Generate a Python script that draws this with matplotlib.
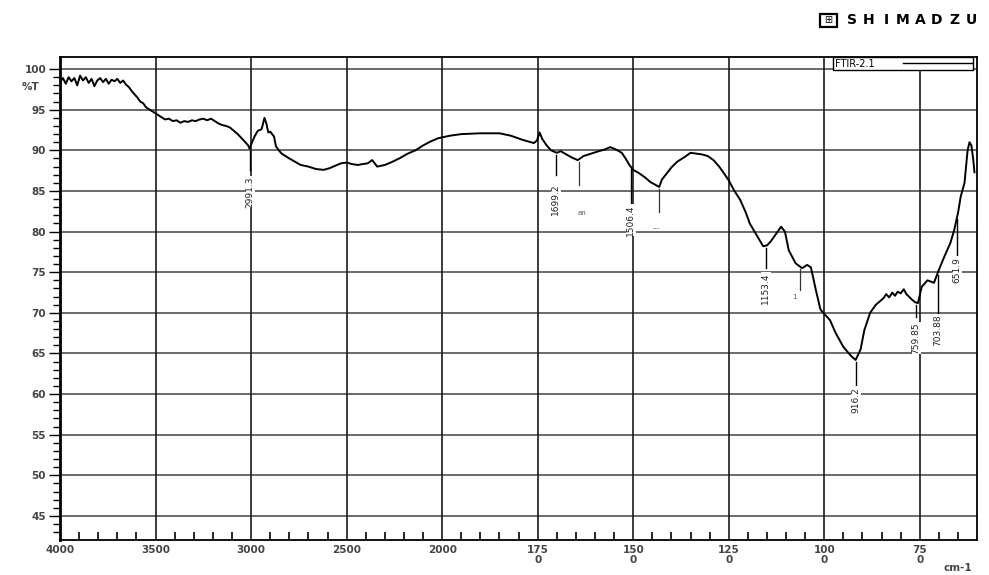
import matplotlib
matplotlib.use("Agg")
import numpy as np
import matplotlib.pyplot as plt
from matplotlib.ticker import FixedLocator, NullFormatter
from matplotlib.patches import Rectangle

# ------------------ DATA ------------------
wavenumber = [
    4000, 3985, 3970, 3955, 3940, 3925, 3910, 3895, 3880, 3865, 3850, 3835,
    3820, 3805, 3790, 3775, 3760, 3745, 3730, 3715, 3700, 3685, 3670, 3655,
    3640, 3625, 3610, 3595, 3580, 3565, 3550, 3530, 3510, 3490, 3470, 3450,
    3430, 3410, 3390, 3370, 3350, 3330, 3310, 3290, 3270, 3250, 3230, 3210,
    3190, 3170, 3150, 3130, 3110, 3090, 3070, 3050, 3030, 3015, 3008, 2995,
    2980, 2965, 2945, 2930, 2920, 2910, 2900, 2890, 2880, 2870, 2855, 2840,
    2820, 2800, 2770, 2740, 2700, 2660, 2620, 2590, 2560, 2530, 2500, 2470,
    2440, 2420, 2390, 2366, 2340, 2300, 2260, 2225, 2180, 2140, 2100, 2060,
    2020, 1980, 1950, 1900, 1850, 1820, 1790, 1760, 1752, 1745, 1738, 1728,
    1715, 1700, 1690, 1675, 1660, 1645, 1630, 1610, 1590, 1575, 1560, 1545,
    1530, 1520, 1510, 1500, 1485, 1470, 1455, 1440, 1432, 1425, 1415, 1400,
    1385, 1365, 1350, 1335, 1320, 1305, 1290, 1275, 1260, 1250, 1235, 1220,
    1205, 1195, 1180, 1170, 1160, 1150, 1140, 1125, 1113, 1103, 1093, 1075,
    1058, 1045, 1035, 1022, 1010, 985, 970, 950, 930, 918, 905, 895,
    880, 865, 845, 838, 830, 822, 815, 808, 800, 792, 785, 770,
    762, 755, 745, 730, 713, 700, 686, 670, 660, 650, 643, 633,
    625, 620, 615, 610, 607,
]
transmittance = [
    98.4, 98.9, 98.2, 99.0, 98.5, 98.9, 98.0, 99.2, 98.6, 99.0, 98.3, 98.8,
    97.9, 98.6, 98.9, 98.4, 98.8, 98.2, 98.7, 98.5, 98.8, 98.3, 98.6, 98.1,
    97.8, 97.3, 96.9, 96.5, 96.0, 95.8, 95.3, 95.0, 94.7, 94.4, 94.1, 93.8,
    93.9, 93.6, 93.7, 93.4, 93.6, 93.5, 93.7, 93.6, 93.8, 93.9, 93.7, 93.9,
    93.6, 93.3, 93.1, 93.0, 92.8, 92.4, 92.0, 91.5, 91.0, 90.6, 90.2, 91.0,
    91.8, 92.4, 92.6, 94.0, 93.3, 92.2, 92.3, 92.0, 91.7, 90.5, 90.0, 89.6,
    89.3, 89.0, 88.6, 88.2, 88.0, 87.7, 87.6, 87.8, 88.1, 88.4, 88.5, 88.3,
    88.2, 88.3, 88.4, 88.8, 88.0, 88.2, 88.6, 89.0, 89.6, 90.0, 90.6, 91.1,
    91.5, 91.8, 92.0, 92.1, 92.1, 91.8, 91.3, 90.9, 91.2, 92.2, 91.4, 90.7,
    90.0, 89.7, 89.9, 89.5, 89.1, 88.8, 89.3, 89.6, 89.9, 90.1, 90.4, 90.1,
    89.7, 89.0, 88.2, 87.6, 87.2, 86.7, 86.1, 85.7, 85.5, 86.4, 87.0, 87.9,
    88.6, 89.2, 89.7, 89.6, 89.5, 89.3, 88.8, 88.0, 87.0, 86.3, 85.0, 83.9,
    82.3, 81.0, 79.8, 79.0, 78.2, 78.3, 78.8, 79.8, 80.6, 80.0, 77.7, 76.1,
    75.5, 75.9, 75.6, 72.8, 70.4, 69.1, 67.5, 65.8, 64.7, 64.2, 65.5, 67.9,
    70.0, 71.0, 71.8, 72.3, 71.9, 72.5, 72.1, 72.6, 72.4, 72.9, 72.3, 71.6,
    71.3, 71.2, 73.2, 74.0, 73.7, 75.3, 76.9, 78.6, 80.2, 82.3, 84.3, 86.0,
    90.0, 91.0, 90.6, 88.8, 87.3,
]

peak_wn = [3008, 1703, 1506.4, 1153.4, 918, 760, 703, 651.9]
peak_labels = ["2991.3", "1699.2", "1506.4", "1153.4", "916.2", "759.85", "703.88", "651.9"]
# pointer end (%T) and label centre (%T) for each peak
peak_line_end = [87.6, 87.0, 83.5, 75.5, 61.1, 69.5, 69.3, 77.0]
peak_text_y = [84.9, 84.0, 81.4, 73.0, 59.3, 66.9, 67.9, 75.3]

minor_wn = [1642, 1432, 1063]
minor_line_end = [85.7, 82.4, 72.8]

x_major = [4000, 3500, 3000, 2500, 2000, 1750, 1500, 1250, 1000, 750]
x_labels = ["4000", "3500", "3000", "2500", "2000", "175\n0", "150\n0", "125\n0", "100\n0", "75\n0"]
y_major = [45, 50, 55, 60, 65, 70, 75, 80, 85, 90, 95, 100]
legend_text = "FTIR-2.1"


# ------------------ SCALE (4000-2000 compressed 2x) ------------------
def fwd(x):
    x = np.asarray(x, dtype=float)
    return np.where(x > 2000, 2000 + (x - 2000) / 2.0, x)


def inv(u):
    u = np.asarray(u, dtype=float)
    return np.where(u > 2000, 2000 + (u - 2000) * 2.0, u)


# ------------------ PLOT ------------------
fig = plt.figure(figsize=(9.89, 5.75), dpi=100)
ax = fig.add_axes([0.0607, 0.061, 0.9273, 0.840])
ax.set_xscale("function", functions=(fwd, inv))
ax.set_xlim(4000, 600)
ax.set_ylim(42.05, 101.5)

for y in y_major:
    ax.axhline(y, color="#6a6a6a", lw=1.4, zorder=1)
for x in x_major[1:]:
    ax.axvline(x, color="#1a1a1a", lw=1.2, zorder=1)

ax.plot(wavenumber, transmittance, color="black", lw=1.4, zorder=3)

# peak pointers
t_at = lambda w: np.interp(w, wavenumber[::-1], transmittance[::-1])
for w, lab, le, ty in zip(peak_wn, peak_labels, peak_line_end, peak_text_y):
    ax.plot([w, w], [t_at(w) - 0.3, le], color="black", lw=1.0, zorder=3)
    ax.text(w, ty, lab, rotation=90, ha="center", va="center", fontsize=6.5,
            color="#222222", bbox=dict(facecolor="white", edgecolor="none", pad=0.3),
            zorder=4)
for w, le in zip(minor_wn, minor_line_end):
    ax.plot([w, w], [t_at(w) - 0.3, le], color="#333333", lw=0.9, zorder=3)

ax.text(1635, 82.3, "an", fontsize=5, color="#555555", ha="center", va="center")
ax.text(1440, 80.4, "---", fontsize=5, color="#555555", ha="center", va="center")
ax.text(1078, 72.0, "1", fontsize=5, color="#555555", ha="center", va="center")

# ticks
ax.xaxis.set_major_locator(FixedLocator(x_major))
ax.set_xticklabels(x_labels)
x_minor = [w for w in range(3900, 2000, -100) if w % 500] + \
          [w for w in range(1950, 600, -50) if w % 250]
ax.xaxis.set_minor_locator(FixedLocator(x_minor))
ax.xaxis.set_minor_formatter(NullFormatter())
ax.tick_params(axis="x", which="both", direction="in", length=6, width=1.2,
               labelsize=7.5, labelcolor="#444444", pad=4)
ax.tick_params(axis="x", which="major", length=0)
for t in ax.get_xticklabels():
    t.set_fontweight("bold")
    t.set_linespacing(1.0)

ax.yaxis.set_major_locator(FixedLocator(y_major))
ax.set_yticklabels([str(v) for v in y_major])
ax.yaxis.set_minor_locator(FixedLocator([v for v in range(43, 101) if v % 5]))
ax.yaxis.set_minor_formatter(NullFormatter())
ax.tick_params(axis="y", which="major", direction="out", length=8, width=1.0,
               labelsize=7.5, labelcolor="#444444", pad=2)
ax.tick_params(axis="y", which="minor", direction="out", length=5, width=1.0)
for t in ax.get_yticklabels():
    t.set_fontweight("bold")

for s in ax.spines.values():
    s.set_color("black")
    s.set_linewidth(1.3)
ax.spines["left"].set_linewidth(2.0)

# %T and unit
fig.text(0.031, 1 - 87 / 575, "%T", fontsize=7.5, fontweight="bold", color="#444444",
         ha="center", va="center")
fig.text(0.968, 1 - 568 / 575, "cm-1", fontsize=7.5, fontweight="bold", color="#444444",
         ha="center", va="center")

# legend box
ax.plot([], [], color="black", lw=1.0, label=legend_text)
leg = ax.legend(loc="upper right", bbox_to_anchor=(0.9955, 0.999), markerfirst=False,
                fancybox=False, edgecolor="black", framealpha=1, fontsize=7,
                handlelength=7.0, borderpad=0.15, borderaxespad=0.0, handletextpad=3.0)
leg.get_frame().set_linewidth(1.0)
leg.set_zorder(5)

# SHIMADZU logo
fig.patches.append(Rectangle((820 / 989, 1 - 27 / 575), 17 / 989, 13 / 575,
                             transform=fig.transFigure, fill=False,
                             edgecolor="black", lw=1.6))
fig.text(828.5 / 989, 1 - 20 / 575, "⊞", fontsize=7, ha="center", va="center")
for i, ch in enumerate("SHIMADZU"):
    fig.text((852 + i * 17) / 989, 1 - 20 / 575, ch, fontsize=10, fontweight="heavy",
             ha="center", va="center", color="black")

fig.savefig("out.png", dpi=100)
